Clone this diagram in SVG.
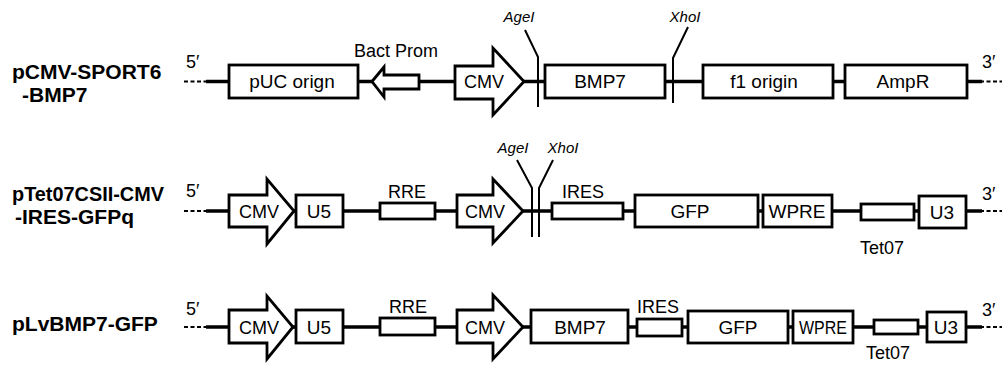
<svg xmlns="http://www.w3.org/2000/svg" width="1004" height="372" viewBox="0 0 1004 372">
<style>
.bb{stroke:#000;stroke-width:3.5;fill:none}
.dash{stroke:#000;stroke-width:2;stroke-dasharray:4 2.5;fill:none}
.cut{stroke:#000;stroke-width:2;fill:none}
.box{fill:#fff;stroke:#000;stroke-width:2.8}
.arr{fill:#fff;stroke:#000;stroke-width:2.8;stroke-linejoin:miter}
text{font-family:"Liberation Sans",Arial,sans-serif;fill:#000}
.lbl{font-size:19px;text-anchor:middle}
.sm{font-size:18px;text-anchor:middle}
.end{font-size:18px}
.title{font-size:21px;font-weight:bold}
.site{font-size:15px;font-style:italic;text-anchor:middle}
</style>
<rect width="1004" height="372" fill="#fff"/>

<g id="titles">
<text class="title" x="12" y="79">pCMV-SPORT6</text>
<text class="title" x="22" y="102">-BMP7</text>
<text class="title" x="12" y="201" textLength="152" lengthAdjust="spacingAndGlyphs">pTet07CSII-CMV</text>
<text class="title" x="15" y="224">-IRES-GFPq</text>
<text class="title" x="12" y="331">pLvBMP7-GFP</text>
</g>

<g id="connectors">
<line class="dash" x1="184" y1="81.5" x2="208" y2="81.5"/>
<line class="bb" x1="206" y1="81.5" x2="982" y2="81.5"/>
<line class="dash" x1="980" y1="81.5" x2="1002" y2="81.5"/>
<line class="dash" x1="184" y1="211" x2="208" y2="211"/>
<line class="bb" x1="206" y1="211" x2="982" y2="211"/>
<line class="dash" x1="980" y1="211" x2="1002" y2="211"/>
<line class="dash" x1="184" y1="327" x2="208" y2="327"/>
<line class="bb" x1="206" y1="327" x2="982" y2="327"/>
<line class="dash" x1="980" y1="327" x2="1002" y2="327"/>
<polyline class="cut" points="525,30 538,57 538,107"/>
<polyline class="cut" points="688,27 673,58 673,103"/>
<polyline class="cut" points="517,160 532,188 532,237"/>
<polyline class="cut" points="553,160 539,188 539,237"/>
</g>

<g id="ends">
<text class="end" x="186" y="68">5′</text>
<text class="end" x="982" y="68">3′</text>
<text class="end" x="186" y="197">5′</text>
<text class="end" x="982" y="200">3′</text>
<text class="end" x="186" y="315">5′</text>
<text class="end" x="982" y="316">3′</text>
</g>

<g id="sites">
<text class="site" x="519" y="22">AgeI</text>
<text class="site" x="685" y="22">XhoI</text>
<text class="site" x="513" y="153">AgeI</text>
<text class="site" x="563" y="153">XhoI</text>
</g>

<g id="r1-puc"><rect class="box" x="229" y="65" width="129" height="33"/><text class="lbl" x="292" y="88">pUC orign</text></g>
<g id="r1-bact"><polygon class="arr" points="372,81.5 384,67 384,75 419,75 419,89 384,89 384,97"/><text class="sm" x="396" y="57">Bact Prom</text></g>
<g id="r1-cmv"><polygon class="arr" points="455,66 493,66 493,48 524,81.5 493,115 493,99 455,99"/><text class="sm" x="484" y="88">CMV</text></g>
<g id="r1-bmp7"><rect class="box" x="545" y="65" width="120" height="33"/><text class="lbl" x="600" y="88">BMP7</text></g>
<g id="r1-f1"><rect class="box" x="703" y="65" width="130" height="33"/><text class="lbl" x="764" y="88">f1 origin</text></g>
<g id="r1-ampr"><rect class="box" x="845" y="65" width="122" height="33"/><text class="lbl" x="903" y="88">AmpR</text></g>

<g id="r2-cmv1"><polygon class="arr" points="229,195 267,195 267,179 294,211 267,244 267,227 229,227"/><text class="sm" x="259" y="218">CMV</text></g>
<g id="r2-u5"><rect class="box" x="296" y="195" width="47" height="32"/><text class="lbl" x="319" y="218">U5</text></g>
<g id="r2-rre"><rect class="box" x="380" y="203" width="55" height="16"/><text class="sm" x="407" y="198">RRE</text></g>
<g id="r2-cmv2"><polygon class="arr" points="457,195 493,195 493,179 523,211 493,243 493,227 457,227"/><text class="sm" x="485" y="218">CMV</text></g>
<g id="r2-ires"><rect class="box" x="552" y="203" width="71" height="16"/><text class="sm" x="583" y="198">IRES</text></g>
<g id="r2-gfp"><rect class="box" x="635" y="195" width="123" height="32"/><text class="lbl" x="690" y="218">GFP</text></g>
<g id="r2-wpre"><rect class="box" x="763" y="195" width="69" height="32"/><text class="lbl" x="797" y="218">WPRE</text></g>
<g id="r2-tet07"><rect class="box" x="861" y="204" width="53" height="16"/><text class="sm" x="882" y="254">Tet07</text></g>
<g id="r2-u3"><rect class="box" x="919" y="196" width="47" height="32"/><text class="lbl" x="942" y="219">U3</text></g>

<g id="r3-cmv1"><polygon class="arr" points="229,310 267,310 267,296 293,327 267,359 267,343 229,343"/><text class="sm" x="259" y="334">CMV</text></g>
<g id="r3-u5"><rect class="box" x="296" y="310" width="47" height="33"/><text class="lbl" x="319" y="334">U5</text></g>
<g id="r3-rre"><rect class="box" x="380" y="318" width="55" height="17"/><text class="sm" x="408" y="313">RRE</text></g>
<g id="r3-cmv2"><polygon class="arr" points="457,310 493,310 493,295 523,327 493,359 493,343 457,343"/><text class="sm" x="485" y="334">CMV</text></g>
<g id="r3-bmp7"><rect class="box" x="531" y="310" width="97" height="33"/><text class="lbl" x="580" y="334">BMP7</text></g>
<g id="r3-ires"><rect class="box" x="637" y="319" width="45" height="17"/><text class="sm" x="658" y="313">IRES</text></g>
<g id="r3-gfp"><rect class="box" x="688" y="311" width="100" height="32"/><text class="lbl" x="738" y="334">GFP</text></g>
<g id="r3-wpre"><rect class="box" x="793" y="311" width="60" height="32"/><text class="lbl" x="823" y="334" textLength="48" lengthAdjust="spacingAndGlyphs">WPRE</text></g>
<g id="r3-tet07"><rect class="box" x="874" y="320" width="44" height="14"/><text class="sm" x="888" y="359">Tet07</text></g>
<g id="r3-u3"><rect class="box" x="927" y="312" width="39" height="30"/><text class="lbl" x="946" y="334">U3</text></g>
</svg>
